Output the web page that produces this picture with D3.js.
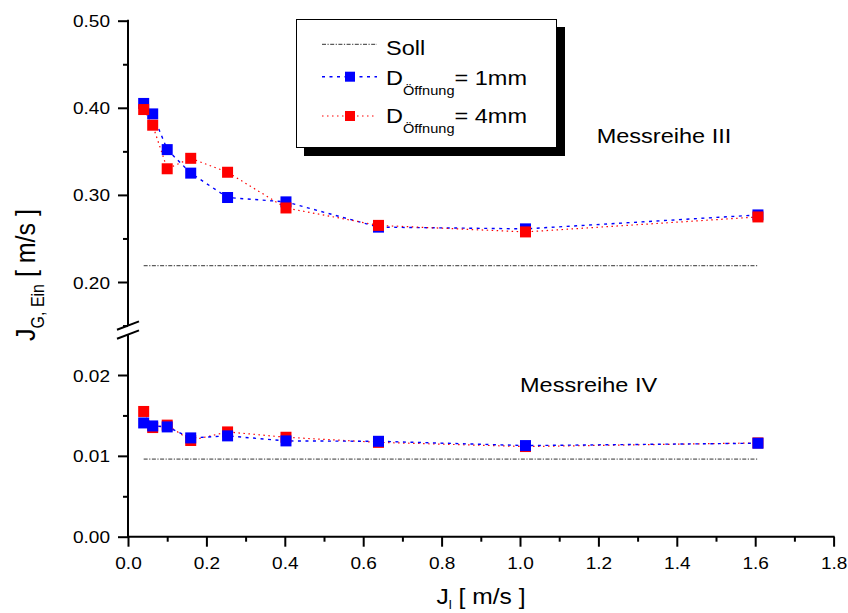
<!DOCTYPE html>
<html><head><meta charset="utf-8">
<script src="https://cdn.jsdelivr.net/npm/d3@7"></script>
<style>
body{margin:0;background:#fff;}
svg{display:block;font-family:"Liberation Sans",Arial,sans-serif;}
</style>
</head><body>
<svg id="c" width="848" height="613"></svg>
<script>
// ---------------- data ----------------
const xVals    = [0.040, 0.063, 0.100, 0.160, 0.254, 0.403, 0.639, 1.014, 1.607];
const upper1mm = [0.405, 0.393, 0.352, 0.325, 0.297, 0.292, 0.263, 0.261, 0.277];
const upper4mm = [0.398, 0.380, 0.330, 0.342, 0.326, 0.285, 0.265, 0.2575, 0.2747];
const lower1mm = [0.01407, 0.0137, 0.01358, 0.01222, 0.01247, 0.01185, 0.0118, 0.01127, 0.01156];
const lower4mm = [0.01549, 0.0135, 0.0138, 0.0119, 0.01296, 0.0123, 0.01167, 0.01115, 0.0116];
const sollUpper = 0.2187;
const sollLower = 0.0096;
const xTicks      = [0, 0.2, 0.4, 0.6, 0.8, 1.0, 1.2, 1.4, 1.6, 1.8];
const xMinor      = [0.1, 0.3, 0.5, 0.7, 0.9, 1.1, 1.3, 1.5, 1.7];
const upperTicks  = [0.20, 0.30, 0.40, 0.50];
const upperMinor  = [0.15, 0.25, 0.35, 0.45];
const lowerTicks  = [0.00, 0.01, 0.02];
const lowerMinor  = [0.005, 0.015];
const legendLabels = ["Soll", "1mm", "4mm"];
const panelLabels  = ["Messreihe III", "Messreihe IV"];

// ---------------- setup ----------------
const SX = 1.12;           // horizontal glyph stretch seen in the reference
const svg = d3.select("#c");
const x  = d3.scaleLinear([0, 1.8], [128, 833.6]);
const yU = d3.scaleLinear([0.2, 0.5], [282, 20.7]);
const yL = d3.scaleLinear([0, 0.02], [536.7, 375]);
const breakU = yU(0.15), breakL = yL(0.025);

const BLUE = "#0000ff", RED = "#ff0000", SOLL = "#333";

function stext(parent, tx, ty, anchor, size, parts, extra) {
  const t = parent.append("text")
    .attr("transform", `translate(${tx},${ty}) ${extra || ""} scale(${SX},1)`)
    .attr("text-anchor", anchor).attr("font-size", size).attr("fill", "#000");
  let shift = 0;
  parts.forEach(p => {
    const s = t.append("tspan").text(p.t);
    if (p.sub) { s.attr("font-size", p.size).attr("dy", p.dy - shift); shift = p.dy; }
    else if (shift) { s.attr("dy", -shift); shift = 0; }
  });
  return t;
}

// ---------------- axes ----------------
function styleAxis(g, labelFn) {
  g.select(".domain").remove();
  g.selectAll(".tick line").attr("stroke", "#000").attr("stroke-width", 2);
  g.selectAll(".tick text").each(function() { labelFn(d3.select(this)); });
}
const yLabel = s => s.attr("x", null).attr("dy", null).attr("y", null)
  .attr("font-size", 17).attr("fill", "#000").attr("text-anchor", "end")
  .attr("transform", `translate(-18,6) scale(${SX},1)`);
const xLabel = s => s.attr("x", null).attr("dy", null).attr("y", null)
  .attr("font-size", 17).attr("fill", "#000").attr("text-anchor", "middle")
  .attr("transform", `translate(0,32) scale(${SX},1)`);

svg.append("g").attr("transform", "translate(128,0)")
  .call(d3.axisLeft(yU).tickValues(upperTicks).tickSize(10).tickFormat(d3.format(".2f")))
  .call(g => styleAxis(g, yLabel));
svg.append("g").attr("transform", "translate(128,0)")
  .call(d3.axisLeft(yU).tickValues(upperMinor).tickSize(5).tickFormat(""))
  .call(g => styleAxis(g, () => {}));
svg.append("g").attr("transform", "translate(128,0)")
  .call(d3.axisLeft(yL).tickValues(lowerTicks).tickSize(10).tickFormat(d3.format(".2f")))
  .call(g => styleAxis(g, yLabel));
svg.append("g").attr("transform", "translate(128,0)")
  .call(d3.axisLeft(yL).tickValues(lowerMinor).tickSize(5).tickFormat(""))
  .call(g => styleAxis(g, () => {}));
svg.append("g").attr("transform", `translate(0,${yL(0)})`)
  .call(d3.axisBottom(x).tickValues(xTicks).tickSize(10).tickFormat(d3.format(".1f")))
  .call(g => styleAxis(g, xLabel));
svg.append("g").attr("transform", `translate(0,${yL(0)})`)
  .call(d3.axisBottom(x).tickValues(xMinor).tickSize(5).tickFormat(""))
  .call(g => styleAxis(g, () => {}));

// axis lines
const ax = svg.append("g").attr("stroke", "#000").attr("stroke-width", 2).attr("fill", "none");
ax.append("line").attr("x1", 128).attr("x2", 128).attr("y1", yU(0.5) - 1).attr("y2", breakU);
ax.append("line").attr("x1", 128).attr("x2", 128).attr("y1", breakL).attr("y2", yL(0) + 1);
ax.append("line").attr("x1", 127).attr("x2", x(1.8) + 1).attr("y1", yL(0)).attr("y2", yL(0));
// break marks
[breakU, breakL].forEach(by => {
  ax.append("line").attr("x1", 128 - 11).attr("y1", by + 4.2).attr("x2", 128 + 11).attr("y2", by - 4.2);
});

// ---------------- data marks ----------------
const plot = svg.append("g");
function sollLine(yScale, val) {
  plot.append("path")
    .attr("d", d3.line().x(d => x(d)).y(() => yScale(val))([xVals[0], xVals[xVals.length - 1]]))
    .attr("fill", "none").attr("stroke", SOLL).attr("stroke-width", 1)
    .attr("stroke-dasharray", "4,1.5,1.2,1.5");
}
function seriesLine(yScale, vals, color, dash, w) {
  plot.append("path")
    .attr("d", d3.line().x((d, i) => x(xVals[i])).y(d => yScale(d))(vals))
    .attr("fill", "none").attr("stroke", color).attr("stroke-width", w)
    .attr("stroke-dasharray", dash);
}
function markers(yScale, vals, color) {
  plot.append("g").selectAll("rect").data(vals).join("rect")
    .attr("x", (d, i) => x(xVals[i]) - 5.5).attr("y", d => yScale(d) - 5.5)
    .attr("width", 11).attr("height", 11).attr("fill", color);
}
sollLine(yU, sollUpper);
sollLine(yL, sollLower);
seriesLine(yU, upper1mm, BLUE, "3,4.5", 1.4);
seriesLine(yU, upper4mm, RED, "1.5,3.5", 1.2);
seriesLine(yL, lower4mm, RED, "1.5,3.5", 1.2);
seriesLine(yL, lower1mm, BLUE, "3,4.5", 1.4);
markers(yU, upper1mm, BLUE);
markers(yU, upper4mm, RED);
markers(yL, lower4mm, RED);
markers(yL, lower1mm, BLUE);

// ---------------- panel labels ----------------
stext(svg, 596.7, 143.3, "start", 21, [{t: panelLabels[0]}]);
stext(svg, 520, 391.7, "start", 21, [{t: panelLabels[1]}]);

// ---------------- axis titles ----------------
stext(svg, 481, 604, "middle", 22,
  [{t: "J"}, {t: "l", sub: true, size: 12, dy: 5}, {t: " [ m/s ]"}]);
svg.append("text")
  .attr("transform", `translate(35,275) rotate(-90) scale(1,${SX})`)
  .attr("text-anchor", "middle").attr("font-size", 25).attr("fill", "#000")
  .call(t => {
    t.append("tspan").text("J");
    t.append("tspan").text("G, Ein").attr("font-size", 16).attr("dy", 8);
    t.append("tspan").text(" [ m/s ]").attr("dy", -8);
  });

// ---------------- legend ----------------
const lg = svg.append("g");
lg.append("rect").attr("x", 304).attr("y", 27).attr("width", 261).attr("height", 129).attr("fill", "#000");
lg.append("rect").attr("x", 296.5).attr("y", 19.5).attr("width", 260).attr("height", 128)
  .attr("fill", "#fff").attr("stroke", "#000").attr("stroke-width", 1);
const lx1 = 322, lx2 = 377;
lg.append("line").attr("x1", lx1).attr("x2", lx2).attr("y1", 44.3).attr("y2", 44.3)
  .attr("stroke", SOLL).attr("stroke-dasharray", "4,1.5,1.2,1.5");
stext(lg, 386, 55, "start", 21, [{t: legendLabels[0]}]);
[[76.7, 85, BLUE, "3,4.5", 1.4, legendLabels[1]], [116, 123, RED, "1.5,3.5", 1.2, legendLabels[2]]]
  .forEach(([ly, by, c, dash, w, lab]) => {
    lg.append("line").attr("x1", lx1).attr("x2", lx2).attr("y1", ly).attr("y2", ly)
      .attr("stroke", c).attr("stroke-width", w).attr("stroke-dasharray", dash);
    lg.append("rect").attr("x", 345).attr("y", ly - 5).attr("width", 10).attr("height", 10).attr("fill", c);
    stext(lg, 386, by, "start", 21,
      [{t: "D"}, {t: "Öffnung", sub: true, size: 13, dy: 10}, {t: "= " + lab}]);
  });
</script>
</body></html>
